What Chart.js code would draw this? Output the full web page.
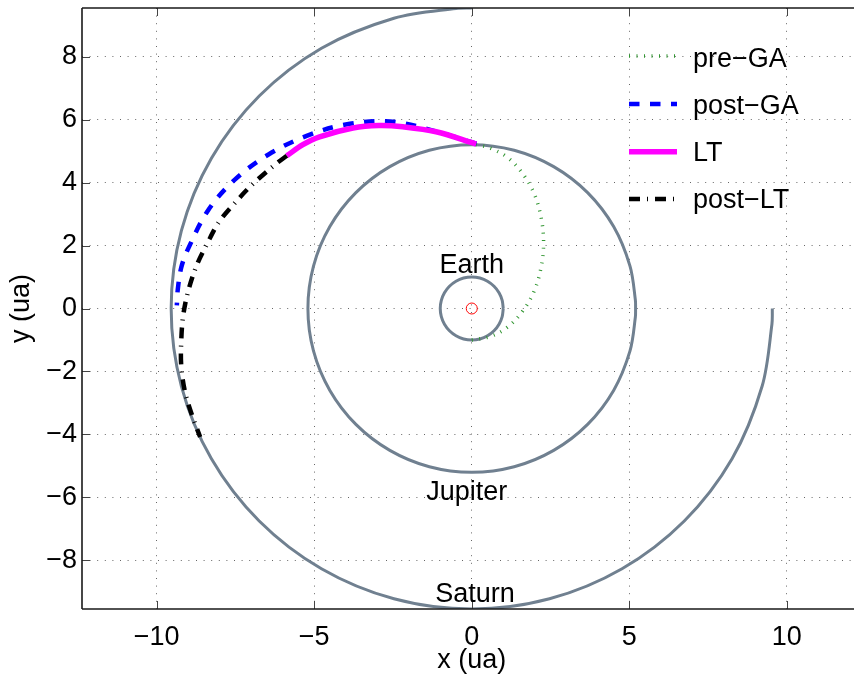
<!DOCTYPE html>
<html><head><meta charset="utf-8">
<style>html,body{margin:0;padding:0;background:#fff;overflow:hidden;}#outer{width:854px;height:679px;overflow:hidden;position:relative;}#wrap{width:868px;height:679px;position:relative;}canvas{display:block;}</style>
<script src="https://cdn.jsdelivr.net/npm/chart.js@4/dist/chart.umd.min.js"></script>
</head><body><div id="outer"><div id="wrap"><canvas id="c" width="868" height="679" style="width:868px;height:679px"></canvas></div></div>
<script>
// ---- data ----
const xTicks = [-10, -5, 0, 5, 10];
const yTicks = [-8, -6, -4, -2, 0, 2, 4, 6, 8];

const earthX = [1, 0.966, 0.866, 0.707, 0.5, 0.259, 0, -0.259, -0.5, -0.707, -0.866, -0.966, -1, -0.966, -0.866, -0.707, -0.5, -0.259, 0, 0.259, 0.5, 0.707, 0.866, 0.966, 1];
const earthY = [0, 0.259, 0.5, 0.707, 0.866, 0.966, 1, 0.966, 0.866, 0.707, 0.5, 0.259, 0, -0.259, -0.5, -0.707, -0.866, -0.966, -1, -0.966, -0.866, -0.707, -0.5, -0.259, 0];

const jupiterX = [5.2, 5.193, 5.023, 4.503, 3.677, 2.6, 1.346, 0, -1.346, -2.6, -3.677, -4.503, -5.023, -5.2, -5.023, -4.503, -3.677, -2.6, -1.346, 0, 1.346, 2.6, 3.677, 4.503, 5.023, 5.193, 5.2];
const jupiterY = [0, 0.272, 1.346, 2.6, 3.677, 4.503, 5.023, 5.2, 5.023, 4.503, 3.677, 2.6, 1.346, 0, -1.346, -2.6, -3.677, -4.503, -5.023, -5.2, -5.023, -4.503, -3.677, -2.6, -1.346, -0.272, 0];

const saturnX = [0, -0.499, -2.469, -4.77, -6.746, -8.262, -9.215, -9.54, -9.215, -8.262, -6.746, -4.77, -2.469, 0, 2.469, 4.77, 6.746, 8.262, 9.215, 9.527, 9.54];
const saturnY = [9.54, 9.527, 9.215, 8.262, 6.746, 4.77, 2.469, 0, -2.469, -4.77, -6.746, -8.262, -9.215, -9.54, -9.215, -8.262, -6.746, -4.77, -2.469, -0.499, 0];

const preGAX = [0, 0.59, 1.14, 1.61, 1.98, 2.20, 2.28, 2.20, 1.98, 1.61, 1.14, 0.59, 0.12];
const preGAY = [-1, -0.89, -0.59, -0.09, 0.55, 1.30, 2.10, 2.90, 3.65, 4.29, 4.79, 5.09, 5.21];

const postGAX = [0.15, -1.2, -2.6, -4.0, -5.24, -6.45, -7.51, -8.36, -9.0, -9.22, -9.33, -9.36];
const postGAY = [5.23, 5.64, 5.94, 5.84, 5.48, 4.89, 4.10, 3.13, 1.9, 1.3, 0.6, 0.1];

const ltX = [0.14, -1.13, -2.19, -2.95, -3.77, -4.83, -5.36, -5.87];
const ltY = [5.22, 5.61, 5.77, 5.81, 5.73, 5.45, 5.20, 4.85];

const postLTX = [-5.87, -6.24, -6.96, -7.51, -8.04, -8.41, -8.73, -9.0, -9.16, -9.22, -9.22, -9.1, -8.87, -8.62];
const postLTY = [4.85, 4.57, 3.94, 3.36, 2.72, 2.03, 1.37, 0.55, -0.24, -1.03, -1.82, -2.65, -3.41, -4.08];

const sunX = [0];
const sunY = [0];

const labelTexts = ['Earth', 'Jupiter', 'Saturn'];
const labelX = [0, -0.16, 0.1];
const labelY = [1.36, -5.83, -9.08];

const legendNames = ['pre\u2212GA', 'post\u2212GA', 'LT', 'post\u2212LT'];

// ---- helpers ----
const pts = (xs, ys) => xs.map((x, i) => ({x: x, y: ys[i]}));
const FONT = '"Liberation Sans", Arial, Helvetica, sans-serif';
const fmt = v => (v < 0 ? '\u2212' + (-v) : String(v));
const GRAY = '#708090';

const styles = {
  preGA: {color: 'rgb(50,150,50)', width: 3.5, dash: [1, 6.5]},
  postGA: {color: '#0000ff', width: 4.5, dash: [10.5, 10.5]},
  LT: {color: '#ff00ff', width: 5.5, dash: []},
  postLT: {color: '#000000', width: 4.5, dash: [11, 7, 1, 7]}
};

function lineDs(xs, ys, st, tension) {
  return {
    data: pts(xs, ys), showLine: true, pointRadius: 0, borderColor: st.color,
    borderWidth: st.width, borderDash: st.dash, tension: tension, fill: false,
    borderCapStyle: 'butt'
  };
}

function noPad(s) { s.paddingTop = 0; s.paddingBottom = 0; s.paddingLeft = 0; s.paddingRight = 0; }

const decor = {
  id: 'decor',
  afterDraw(chart) {
    const ctx = chart.ctx, a = chart.chartArea;
    const xs = chart.scales.x, ys = chart.scales.y;
    ctx.save();
    // inward ticks
    ctx.strokeStyle = '#444'; ctx.lineWidth = 1;
    ctx.beginPath();
    xTicks.forEach(v => {
      const px = Math.round(xs.getPixelForValue(v)) + 0.5;
      ctx.moveTo(px, a.bottom); ctx.lineTo(px, a.bottom - 8);
      ctx.moveTo(px, a.top); ctx.lineTo(px, a.top + 8);
    });
    yTicks.forEach(v => {
      const py = Math.round(ys.getPixelForValue(v)) + 0.5;
      ctx.moveTo(a.left, py); ctx.lineTo(a.left + 8, py);
    });
    ctx.stroke();
    // box (left, bottom, top)
    ctx.strokeStyle = '#1a1a1a'; ctx.lineWidth = 1.6;
    ctx.beginPath();
    ctx.moveTo(a.left, a.top); ctx.lineTo(a.left, a.bottom);
    ctx.moveTo(a.left, a.bottom); ctx.lineTo(a.right, a.bottom);
    ctx.moveTo(a.left, a.top); ctx.lineTo(a.right, a.top);
    ctx.stroke();
    // planet labels
    ctx.fillStyle = '#000';
    ctx.font = '27px ' + FONT;
    ctx.textAlign = 'center'; ctx.textBaseline = 'middle';
    labelTexts.forEach((t, i) => {
      ctx.fillText(t, xs.getPixelForValue(labelX[i]), ys.getPixelForValue(labelY[i]));
    });
    // legend
    const keys = ['preGA', 'postGA', 'LT', 'postLT'];
    const lineY = [56, 104, 151.7, 199];
    const textY = [60, 106.7, 153.3, 200.8];
    keys.forEach((k, i) => {
      const st = styles[k];
      ctx.strokeStyle = st.color; ctx.lineWidth = st.width; ctx.setLineDash(st.dash);
      ctx.lineCap = 'butt';
      ctx.beginPath(); ctx.moveTo(629, lineY[i]); ctx.lineTo(677, lineY[i]); ctx.stroke();
      ctx.setLineDash([]);
      ctx.textAlign = 'left';
      ctx.fillText(legendNames[i], 693, textY[i]);
    });
    ctx.restore();
  }
};

new Chart(document.getElementById('c'), {
  type: 'scatter',
  data: {
    datasets: [
      {data: pts(sunX, sunY), pointRadius: 5.5, pointStyle: 'circle', borderColor: '#ff0000', borderWidth: 1, backgroundColor: 'rgba(0,0,0,0)', showLine: false},
      lineDs(postLTX, postLTY, styles.postLT, 0.35),
      lineDs(ltX, ltY, styles.LT, 0.35),
      lineDs(postGAX, postGAY, styles.postGA, 0.35),
      lineDs(preGAX, preGAY, styles.preGA, 0.35),
      lineDs(saturnX, saturnY, {color: GRAY, width: 3, dash: []}, 0.33),
      lineDs(jupiterX, jupiterY, {color: GRAY, width: 3, dash: []}, 0.33),
      lineDs(earthX, earthY, {color: GRAY, width: 3, dash: []}, 0.33)
    ]
  },
  options: {
    responsive: false, devicePixelRatio: 1, animation: false, events: [],
    layout: {padding: {top: 8, right: 0, left: 0, bottom: 0}},
    plugins: {legend: {display: false}, tooltip: {enabled: false}},
    scales: {
      x: {
        type: 'linear', min: -12.37, max: 12.37,
        afterBuildTicks: s => { s.ticks = xTicks.map(v => ({value: v})); },
        afterFit: s => { s.height = 70; noPad(s); },
        ticks: {font: {family: FONT, size: 27}, color: '#000', padding: 12, callback: fmt, maxRotation: 0, autoSkip: false},
        grid: {drawTicks: false, color: 'rgba(0,0,0,0.6)', lineWidth: 1},
        border: {display: false, dash: [1, 6.6]},
        title: {display: true, text: 'x (ua)', color: '#000', font: {family: FONT, size: 27}, padding: {top: 0, bottom: 2}}
      },
      y: {
        type: 'linear', min: -9.54, max: 9.54,
        afterBuildTicks: s => { s.ticks = yTicks.map(v => ({value: v})); },
        afterFit: s => { s.width = 82; noPad(s); },
        ticks: {font: {family: FONT, size: 27}, color: '#000', padding: 5, callback: fmt, autoSkip: false},
        grid: {drawTicks: false, color: 'rgba(0,0,0,0.6)', lineWidth: 1},
        border: {display: false, dash: [1, 6.6]},
        title: {display: true, text: 'y (ua)', color: '#000', font: {family: FONT, size: 27}, padding: {top: 5, bottom: 0}}
      }
    }
  },
  plugins: [decor]
});
</script>
</body></html>
